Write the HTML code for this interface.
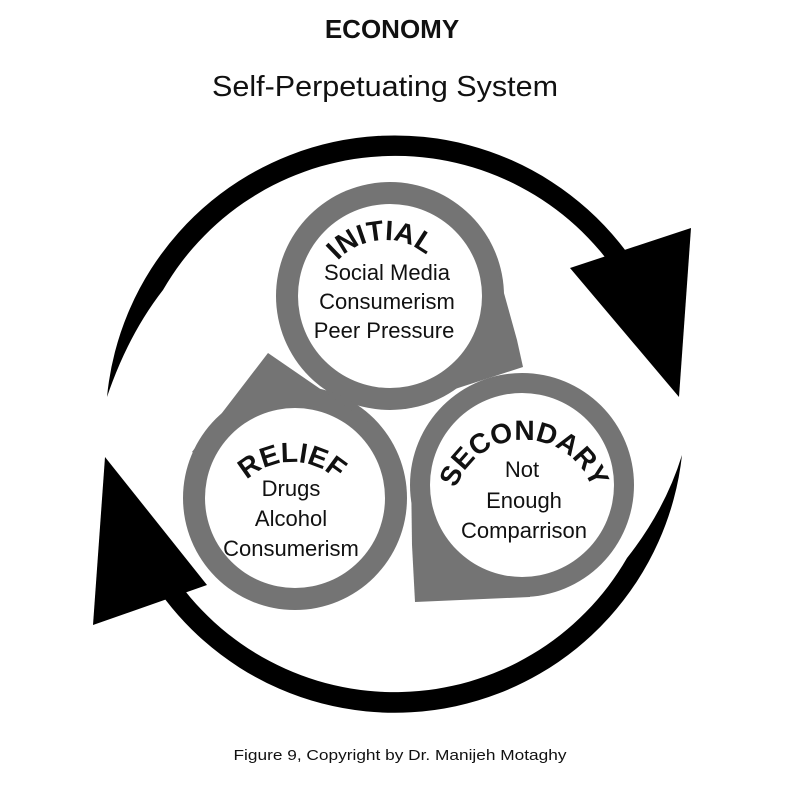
<!DOCTYPE html>
<html><head><meta charset="utf-8"><style>
html,body{margin:0;padding:0;background:#fff;}
svg{display:block;}
text{font-family:"Liberation Sans",sans-serif;fill:#111;}
</style></head><body>
<svg width="800" height="800" viewBox="0 0 800 800">
<text x="392" y="38" font-size="26" font-weight="bold" text-anchor="middle">ECONOMY</text>
<text x="385" y="96" font-size="29" text-anchor="middle" textLength="346" lengthAdjust="spacingAndGlyphs">Self-Perpetuating System</text>

<!-- big arrows -->
<path d="M107,397 A289 289 0 0 1 645,280 L620,278 A268 268 0 0 0 163,290 Q128,335 107,397 Z" fill="#000"/>
<polygon points="570,268 691,228 679,397" fill="#000"/>
<path d="M682,455 A289 289 0 0 1 146,571 L170,570 A268 268 0 0 0 627,558 Q665,510 682,455 Z" fill="#000"/>
<polygon points="105,457 93,625 207,585" fill="#000"/>

<!-- teardrops -->
<g fill="#747474">
<circle cx="390" cy="296" r="114"/>
<polygon points="390,296 489,239 517,340 523,367 390,410"/>
<circle cx="295" cy="498" r="112"/>
<polygon points="295,498 380,430 268,353 192,452"/>
<circle cx="522" cy="485" r="112"/>
<polygon points="522,485 411,470 412,545 415,602 530,597"/>
</g>
<g fill="#fff">
<circle cx="390" cy="296" r="92"/>
<circle cx="295" cy="498" r="90"/>
<circle cx="522" cy="485" r="92"/>
</g>

<defs>
<path id="pI" d="M321,304 A64 64 0 0 1 449,304"/>
<path id="pR" d="M227,527 A65 65 0 0 1 357,527"/>
<path id="pS" d="M452,512 A72 72 0 0 1 596,512"/>
</defs>
<text font-size="28" font-weight="bold"><textPath href="#pI" startOffset="48%" text-anchor="middle">INITIAL</textPath></text>
<text font-size="28" font-weight="bold"><textPath href="#pR" startOffset="50%" text-anchor="middle">RELIEF</textPath></text>
<text font-size="28" font-weight="bold"><textPath href="#pS" startOffset="50%" text-anchor="middle">SECONDARY</textPath></text>

<g font-size="22" text-anchor="middle">
<text x="387" y="280">Social Media</text>
<text x="387" y="309">Consumerism</text>
<text x="384" y="338">Peer Pressure</text>
<text x="291" y="496">Drugs</text>
<text x="291" y="526">Alcohol</text>
<text x="291" y="556">Consumerism</text>
<text x="522" y="477">Not</text>
<text x="524" y="508">Enough</text>
<text x="524" y="538">Comparrison</text>
</g>

<text x="400" y="760" font-size="15" text-anchor="middle" textLength="333" lengthAdjust="spacingAndGlyphs">Figure 9, Copyright by Dr. Manijeh Motaghy</text>
</svg>
</body></html>
